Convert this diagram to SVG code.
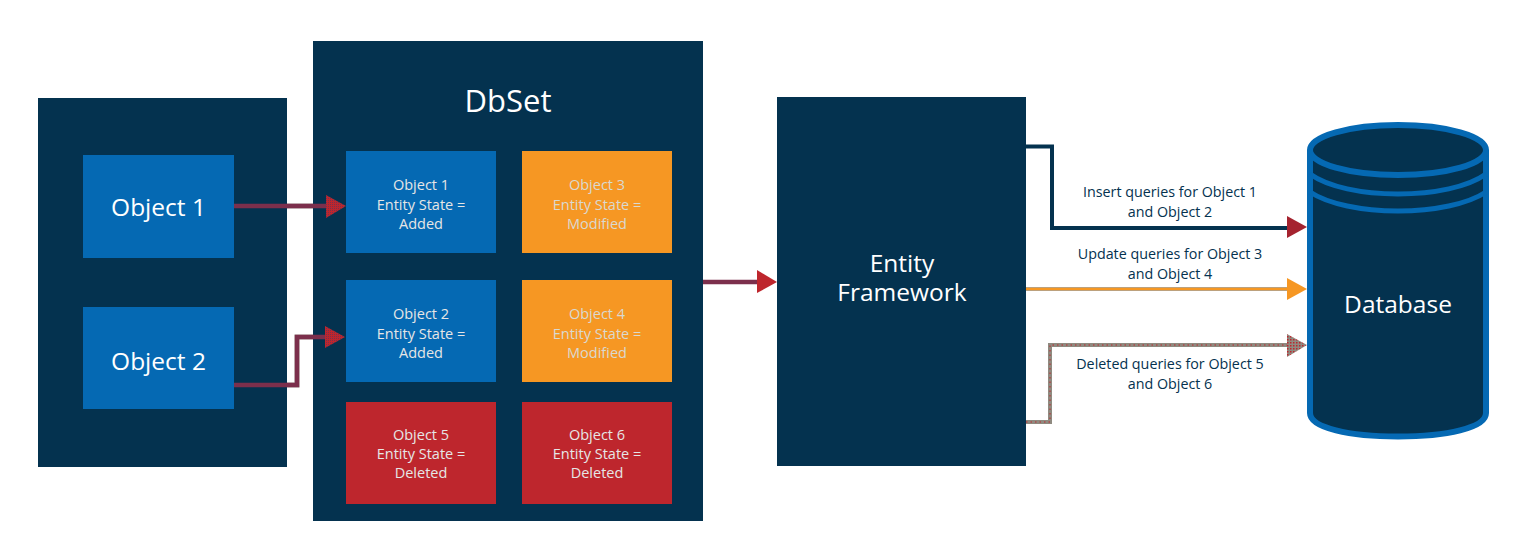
<svg xmlns="http://www.w3.org/2000/svg" width="1528" height="557" viewBox="0 0 1528 557">
<style>
.panel{fill:#04324f}
.blue{fill:#0569b3}
.orange{fill:#f69723}
.red{fill:#be262d}
text{font-family:"Open Sans","Noto Sans","Liberation Sans",sans-serif;text-anchor:middle}
.big{font-size:24.500px;font-weight:500;fill:#fff}
.title{font-size:31px;font-weight:500;fill:#fff}
.cell{font-size:14.500px;fill:#e6e6e6}
.cellO{font-size:14.500px;fill:#d9d9d0}
.lab{font-size:14.300px;fill:#04324f}
.halo{fill:none;stroke:#a9a49c;stroke-width:5}
.maroon{fill:none;stroke:#7c2f4c;stroke-width:4.500}
</style>
<defs>
<pattern id="dots" width="3" height="3" patternUnits="userSpaceOnUse"><rect width="3" height="3" fill="#8f8a80"/><rect width="1.500" height="1.500" fill="#be262d"/></pattern>
<pattern id="dotsR" width="2" height="2" patternUnits="userSpaceOnUse"><rect width="2" height="2" fill="#be262d"/><rect width="1" height="1" fill="#7c2f4c"/></pattern>
</defs>
<g id="objects-panel"><rect class="panel" x="38" y="98" width="249" height="369"/></g>
<g id="object-1"><rect class="blue" x="83" y="155" width="151" height="103"/><text class="big" x="158.500" y="216">Object 1</text></g>
<g id="object-2"><rect class="blue" x="83" y="307" width="151" height="102"/><text class="big" x="158.500" y="370">Object 2</text></g>
<g id="dbset"><rect class="panel" x="313" y="41" width="390" height="480"/><text class="title" x="508" y="112">DbSet</text></g>
<g id="dbset-object-1"><rect class="blue" x="346" y="151" width="150" height="102"/><text class="cell" x="421" y="190">Object 1</text><text class="cell" x="421" y="209.500">Entity State =</text><text class="cell" x="421" y="228.500">Added</text></g>
<g id="dbset-object-3"><rect class="orange" x="522" y="151" width="150" height="102"/><text class="cellO" x="597" y="190">Object 3</text><text class="cellO" x="597" y="209.500">Entity State =</text><text class="cellO" x="597" y="228.500">Modified</text></g>
<g id="dbset-object-2"><rect class="blue" x="346" y="280" width="150" height="102"/><text class="cell" x="421" y="319">Object 2</text><text class="cell" x="421" y="338.500">Entity State =</text><text class="cell" x="421" y="357.500">Added</text></g>
<g id="dbset-object-4"><rect class="orange" x="522" y="280" width="150" height="102"/><text class="cellO" x="597" y="319">Object 4</text><text class="cellO" x="597" y="338.500">Entity State =</text><text class="cellO" x="597" y="357.500">Modified</text></g>
<g id="dbset-object-5"><rect class="red" x="346" y="402" width="150" height="102"/><text class="cell" x="421" y="439.500">Object 5</text><text class="cell" x="421" y="459">Entity State =</text><text class="cell" x="421" y="478">Deleted</text></g>
<g id="dbset-object-6"><rect class="red" x="522" y="402" width="150" height="102"/><text class="cell" x="597" y="439.500">Object 6</text><text class="cell" x="597" y="459">Entity State =</text><text class="cell" x="597" y="478">Deleted</text></g>
<g id="entity-framework"><rect class="panel" x="777" y="97" width="249" height="369"/><text class="big" x="902" y="272">Entity</text><text class="big" x="902" y="301">Framework</text></g>
<g id="database">
<path class="panel" d="M1310 150V413C1310 428 1350 437 1398 437C1446 437 1486 428 1486 413V150Z"/>
<ellipse class="panel" cx="1398" cy="150" rx="88" ry="25"/>
<g fill="none" stroke="#0569b3">
<path stroke-width="6" d="M1310 150V413C1310 428 1350 436.500 1398 436.500C1446 436.500 1486 428 1486 413V150"/>
<ellipse stroke-width="6" cx="1398" cy="150" rx="88" ry="25"/>
<path stroke-width="5" d="M1310 174C1328 187 1362 194 1398 194C1434 194 1468 187 1486 174"/>
<path stroke-width="5" d="M1310 192C1328 204 1362 211 1398 211C1434 211 1468 204 1486 192"/>
</g>
<text class="big" x="1398" y="313">Database</text>
</g>
<g id="connectors">
<path class="halo" d="M287 206H313"/>
<path class="maroon" d="M234 206H328"/>
<path class="halo" d="M287 385H297V337H313"/>
<path class="maroon" d="M234 385H297V337H328"/>
<polygon points="326,195 346,206 326,218" fill="url(#dotsR)"/>
<polygon points="325,326 345,337 325,348" fill="url(#dotsR)"/>
<path class="maroon" d="M703 282H759"/>
<polygon points="757,270 777,282 757,293" fill="#be262d"/>
<path d="M1026 146.500H1052V228H1289" fill="none" stroke="#04324f" stroke-width="4"/>
<polygon points="1287,216 1307,227 1287,238" fill="#a5232f"/>
<path d="M1026 289H1289" fill="none" stroke="#a9a49c" stroke-width="4"/>
<path d="M1026 289H1289" fill="none" stroke="#f69723" stroke-width="2.500"/>
<polygon points="1287,278 1307,289 1287,300" fill="#f69723"/>
<path d="M1026 422H1050V345H1289" fill="none" stroke="#8f8a80" stroke-width="4"/>
<path d="M1026 422H1050V345H1289" fill="none" stroke="#be262d" stroke-width="1" stroke-dasharray="1.500 3"/>
<polygon points="1287,334 1307,345 1287,357" fill="url(#dots)"/>
</g>
<g id="labels">
<text class="lab" x="1170" y="197">Insert queries for Object 1</text>
<text class="lab" x="1170" y="217">and Object 2</text>
<text class="lab" x="1170" y="259">Update queries for Object 3</text>
<text class="lab" x="1170" y="278.500">and Object 4</text>
<text class="lab" x="1170" y="369">Deleted queries for Object 5</text>
<text class="lab" x="1170" y="388.500">and Object 6</text>
</g>
</svg>
